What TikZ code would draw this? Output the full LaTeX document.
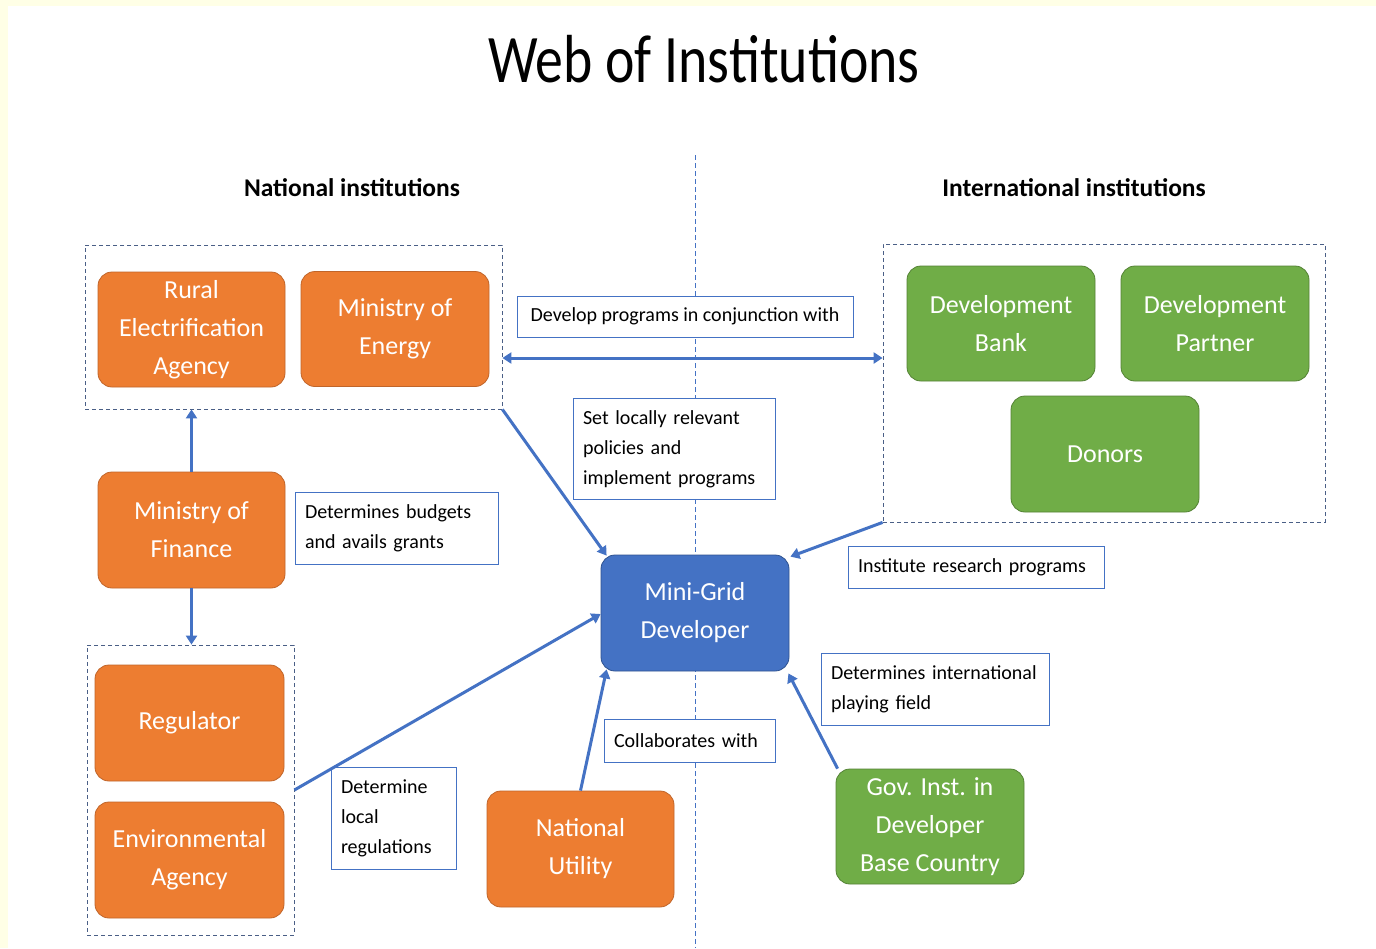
\documentclass[tikz,border=0pt]{standalone}
\usepackage{fontspec}
\setmainfont{Carlito}
\newfontfamily\titlefont[FakeStretch=0.82]{Carlito}
\usetikzlibrary{arrows.meta,calc}
\definecolor{orng}{HTML}{ED7D31}
\definecolor{orngD}{HTML}{C0652A}
\definecolor{grn}{HTML}{70AD47}
\definecolor{grnD}{HTML}{548235}
\definecolor{blu}{HTML}{4472C4}
\definecolor{bluD}{HTML}{2F528F}
\definecolor{grpc}{HTML}{4A5F86}
\definecolor{bgy}{HTML}{FFFFE6}
\tikzset{
  box/.style={rectangle, rounded corners=14pt, draw, line width=0.8pt, text=white,
    align=center, font=\fontsize{26}{38}\selectfont, inner sep=0pt,
    minimum width=188pt, minimum height=116pt},
  obox/.style={box, fill=orng, draw=orngD},
  gbox/.style={box, fill=grn, draw=grnD},
  bbox/.style={box, fill=blu, draw=bluD},
  grp/.style={rectangle, draw=grpc, line width=0.8pt, dash pattern=on 4pt off 3pt, inner sep=0pt},
  lbl/.style={rectangle, draw=blu, line width=0.8pt, fill=white, align=left,
    font=\fontsize{20}{30}\selectfont, inner xsep=10pt, inner ysep=0pt, text=black},
  arr/.style={draw=blu, line width=3pt, -{Triangle[length=9pt,width=11pt]}},
  darr/.style={draw=blu, line width=3pt, {Triangle[length=9pt,width=11pt]}-{Triangle[length=9pt,width=11pt]}},
  divider/.style={draw=blu, line width=0.8pt, dash pattern=on 5pt off 3pt},
  head/.style={font=\bfseries\fontsize{25.5}{30}\selectfont}
}
\begin{document}
\begin{tikzpicture}[x=1pt,y=-1pt]
\fill[white] (0,0) rectangle (1376,948);
\fill[bgy] (0,0) rectangle (1376,6);
\fill[bgy] (0,0) rectangle (8,948);
\useasboundingbox (0,0) rectangle (1376,948);

% title and headers
\node[font=\titlefont\fontsize{68}{70}\selectfont] (title) at (704,59) {Web of Institutions};
\node[head] (nat) at (352,188) {National institutions};
\node[head] (intl) at (1074,188) {International institutions};

% divider
\coordinate (dtop) at (695,155);
\coordinate (dbot) at (695,948);
\draw[divider] (dtop) -- (dbot);

% groups
\node[grp, minimum width=417pt, minimum height=164pt] (gL1) at (293.5,327) {};
\node[grp, minimum width=442pt, minimum height=278pt] (gR) at (1104,383) {};
\node[grp, minimum width=207pt, minimum height=290pt] (gL2) at (190.5,790) {};

% boxes
\node[obox, minimum width=187pt, minimum height=115pt] (rea) at (191.5,329.5) {Rural\\Electrification\\Agency};
\node[obox, minimum height=115pt] (moe) at (395,329) {Ministry of\\Energy};
\node[gbox, minimum height=115pt] (db) at (1001,323.5) {Development\\Bank};
\node[gbox, minimum height=115pt] (dp) at (1215,323.5) {Development\\Partner};
\node[gbox] (don) at (1105,454) {Donors};
\node[obox, minimum width=187pt] (mof) at (191.5,530) {Ministry of\\Finance};
\node[obox, minimum width=189pt] (reg) at (189.5,723) {Regulator};
\node[obox, minimum width=189pt] (env) at (189.5,860) {Environmental\\Agency};
\node[bbox] (mg) at (695,613) {Mini-Grid\\Developer};
\node[obox, minimum width=187pt] (nu) at (580.5,849) {National\\Utility};
\node[gbox, minimum height=115pt] (gov) at (930,826.5) {Gov. Inst. in\\Developer\\Base Country};

% label boxes
\node[lbl, minimum width=336pt, minimum height=41pt] (l1) at (685,316.5) {Develop programs in conjunction with};
\node[lbl, text width=182pt, minimum height=101pt] (l2) at (674,449) {Set locally relevant\\policies and\\implement programs};
\node[lbl, text width=183pt, minimum height=72pt] (l3) at (396.5,528) {Determines budgets\\and avails grants};
\node[lbl, text width=236pt, minimum height=42pt] (l4) at (976,567) {Institute research programs};
\node[lbl, text width=208pt, minimum height=72pt] (l5) at (935,689) {Determines international\\playing field};
\node[lbl, text width=151pt, minimum height=43pt] (l6) at (689.5,740.5) {Collaborates with};
\node[lbl, text width=105pt, minimum height=102pt] (l7) at (393.5,818) {Determine\\local\\regulations};

% connectors
\draw[darr] ([yshift=-31pt]gL1.east) -- ([yshift=-31pt]gL1.east -| gR.west);
\draw[arr] (gL1.south east) -- ([xshift=6pt,yshift=-1pt]mg.north west);
\draw[arr] (gR.south west) -- ([xshift=1pt,yshift=-2pt]mg.north east);
\draw[arr] (mof.north) -- (mof.north |- gL1.south);
\draw[arr] (mof.south) -- (mof.south |- gL2.north);
\draw[arr] (gL2.east) -- ([yshift=-1pt]mg.west);
\draw[arr] (nu.north) -- ([xshift=6pt,yshift=2pt]mg.south west);
\draw[arr] ([xshift=2pt]gov.north west) -- ([xshift=-1pt,yshift=-2pt]mg.south east);
\end{tikzpicture}
\end{document}
